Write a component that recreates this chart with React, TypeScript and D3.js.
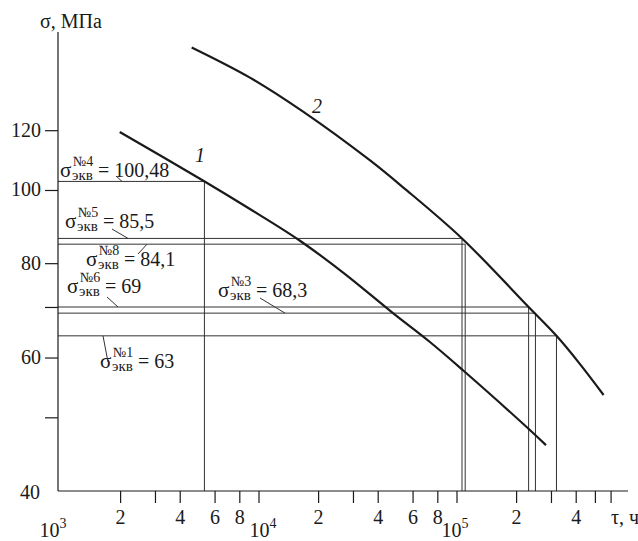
import React from 'react';
import * as d3 from 'd3';

// long-term strength curves, tau in hours, sigma in MPa
const curve1Tau = [1980, 5340, 9000, 16100, 27200, 47500, 73000, 107200, 229000, 281500];
const curve1Sigma = [119.5, 102.7, 94.5, 85.8, 77.5, 68.8, 63.0, 57.8, 48.4, 46.0];
const curve2Tau = [4570, 9000, 16700, 36400, 53600, 106000, 230000, 318000, 418000, 550000];
const curve2Sigma = [154.7, 141.1, 127.2, 109.6, 100.9, 86.4, 70.1, 64.2, 58.9, 53.6];

// equivalent stress levels (as drawn) and where they meet the curves
const eqNames = ['№4', '№5', '№8', '№6', '№3', '№1'];
const eqValues = ['100,48', '85,5', '84,1', '69', '68,3', '63'];
const levelSigma = [102.8, 86.4, 84.9, 70.1, 68.8, 64.2];
const levelTau = [5300, 106000, 110000, 230000, 249000, 318000];

// axis ticks
const yTicks = [50, 60, 70, 80, 100, 120];
const yTickLabels = ['', '60', '', '80', '100', '120'];
const xTicks = [2e3, 3e3, 4e3, 6e3, 8e3, 1e4, 2e4, 3e4, 4e4, 6e4, 8e4, 1e5, 2e5, 3e5, 4e5, 5e5, 6e5];
const xTickLabels = ['2', '', '4', '6', '8', '', '2', '', '4', '6', '8', '', '2', '', '4', '', ''];
const decades = [1e3, 1e4, 1e5];
const decadeExp = ['3', '4', '5'];

const W = 638;
const H = 541;
const FONT = 'Liberation Serif';
const INK = '#1a1a1a';

// label layout: start of sigma glyph + baseline, leader line start/end x
const labelPos = [
  { x: 60, y: 177, lx1: 116, ly1: 176, lx2: 122 },
  { x: 65, y: 228, lx1: 112, ly1: 229, lx2: 128 },
  { x: 86, y: 266, lx1: 138, ly1: 254, lx2: 147 },
  { x: 67, y: 293, lx1: 107, ly1: 297, lx2: 118 },
  { x: 218, y: 297, lx1: 260, ly1: 298, lx2: 285 },
  { x: 100, y: 368, lx1: 108, ly1: 362, lx2: 103 },
];
const decadeDx = [-8, 4, -2];

export default function App() {
  const x = d3.scaleLog().domain([1e3, 1e6]).range([61, 655]);
  const y = d3.scaleLog().domain([40, 120]).range([491, 130.7]);
  const x0 = 58;
  const y0 = 491;

  const line = d3
    .line<[number, number]>()
    .x(d => x(d[0]))
    .y(d => y(d[1]))
    .curve(d3.curveCatmullRom.alpha(0.5));

  const c1 = curve1Tau.map((t, i) => [t, curve1Sigma[i]] as [number, number]);
  const c2 = curve2Tau.map((t, i) => [t, curve2Sigma[i]] as [number, number]);

  return (
    <svg
      width={W}
      height={H}
      style={{ position: 'absolute', left: 0, top: 0, background: '#fff', fontFamily: FONT }}
    >
      <rect width={W} height={H} fill="#fff" />

      {/* level lines */}
      {levelSigma.map((s, i) => (
        <g key={'lv' + i} stroke="#333" strokeWidth={1} fill="none">
          <line x1={x0} x2={x(levelTau[i])} y1={y(s)} y2={y(s)} />
          <line x1={x(levelTau[i])} x2={x(levelTau[i])} y1={y(s)} y2={y0} />
        </g>
      ))}

      {/* curves */}
      <path d={line(c1) || ''} fill="none" stroke={INK} strokeWidth={2.2} />
      <path d={line(c2) || ''} fill="none" stroke={INK} strokeWidth={2.2} />
      <text x={195} y={162} fontSize={20} fontStyle="italic" fill={INK} style={{ fontFamily: FONT }}>1</text>
      <text x={312} y={113} fontSize={20} fontStyle="italic" fill={INK} style={{ fontFamily: FONT }}>2</text>

      {/* axes */}
      <line x1={x0} x2={x0} y1={32} y2={y0} stroke={INK} strokeWidth={1.2} />
      <line x1={x0} x2={628} y1={y0} y2={y0} stroke={INK} strokeWidth={1.2} />

      {yTicks.map((t, i) => (
        <g key={'yt' + i}>
          <line x1={x0 - 13} x2={x0} y1={y(t)} y2={y(t)} stroke={INK} strokeWidth={1.2} />
          {yTickLabels[i] ? (
            <text x={41} y={y(t) + 6} fontSize={20} textAnchor="end" fill={INK} style={{ fontFamily: FONT }}>
              {yTickLabels[i]}
            </text>
          ) : null}
        </g>
      ))}
      <text x={40} y={499} fontSize={20} textAnchor="end" fill={INK} style={{ fontFamily: FONT }}>40</text>
      <text x={40} y={28} fontSize={20} fill={INK} style={{ fontFamily: FONT }}>σ, МПа</text>

      {xTicks.map((t, i) => (
        <g key={'xt' + i}>
          <line x1={x(t)} x2={x(t)} y1={y0} y2={y0 + 12} stroke={INK} strokeWidth={1.2} />
          {xTickLabels[i] ? (
            <text x={x(t)} y={524} fontSize={20} textAnchor="middle" fill={INK} style={{ fontFamily: FONT }}>
              {xTickLabels[i]}
            </text>
          ) : null}
        </g>
      ))}
      {decades.map((d, i) => (
        <text
          key={'dc' + i}
          x={x(d) + decadeDx[i]}
          y={537}
          fontSize={20}
          textAnchor="middle"
          fill={INK}
          style={{ fontFamily: FONT }}
        >
          10
          <tspan dy={-9} fontSize={14}>{decadeExp[i]}</tspan>
        </text>
      ))}
      <text x={611} y={524} fontSize={20} fill={INK} style={{ fontFamily: FONT }}>τ, ч</text>

      {/* equivalent stress labels */}
      {eqNames.map((n, i) => {
        const p = labelPos[i];
        return (
          <g key={'lb' + i} fill={INK} style={{ fontFamily: FONT }}>
            <text x={p.x} y={p.y} fontSize={21}>σ</text>
            <text x={p.x + 13} y={p.y - 11} fontSize={14}>{n}</text>
            <text x={p.x + 12} y={p.y + 3} fontSize={15}>экв</text>
            <text x={p.x + 38} y={p.y} fontSize={20}>= {eqValues[i]}</text>
            <line
              x1={p.lx1}
              y1={p.ly1}
              x2={p.lx2}
              y2={y(levelSigma[i])}
              stroke="#333"
              strokeWidth={1}
            />
          </g>
        );
      })}
    </svg>
  );
}
